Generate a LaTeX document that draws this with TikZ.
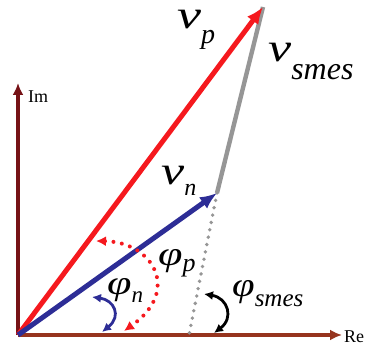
\documentclass[tikz,border=0pt]{standalone}
\usepackage{fontspec}
\setmainfont{Liberation Serif}
\newfontfamily\labfont{Liberation Serif Italic}
\usetikzlibrary{arrows.meta}

\definecolor{phasorred}{RGB}{245,25,30}
\definecolor{phasorblue}{RGB}{45,45,150}
\definecolor{imaxis}{RGB}{118,18,22}
\definecolor{reaxis}{RGB}{150,52,30}
\definecolor{smesgray}{RGB}{150,150,150}

% italic symbol (widened) with a lowered subscript
\newcommand{\phlab}[6]{\scalebox{#6}[1]{\fontsize{#1}{#1}\labfont #2}\raisebox{-#5}{\fontsize{#3}{#3}\labfont #4}}

\begin{document}
\begin{tikzpicture}[
  x=1pt,y=-1pt,
  axis/.style={line width=3.4pt,-{Latex[length=12pt,width=11pt]}},
  phasor/.style={line width=5pt,-{Latex[length=17pt,width=14pt]}},
  angleblue/.style={draw=phasorblue,line width=2.8pt,{Latex[length=9pt,width=9pt]}-{Latex[length=9pt,width=9pt]}},
  anglered/.style={draw=phasorred,line width=4pt,line cap=round,dash pattern=on 0pt off 8.5pt,
    {Latex[length=10pt,width=10pt]}-{Latex[length=10pt,width=10pt]}},
  angleblack/.style={draw=black,line width=2.8pt,{Latex[length=9pt,width=9pt]}-{Latex[length=9pt,width=9pt]}},
  lab/.style={inner sep=0pt,anchor=base west,text height=22pt}
]
  \useasboundingbox (0,0) rectangle (369,347);

  \coordinate (O) at (18,335);
  \coordinate (imtop) at (18,83);
  \coordinate (reend) at (342,335);
  \coordinate (vp) at (263,7);
  \coordinate (vn) at (217,193);
  \coordinate (sfoot) at (189,335);

  % axes
  \draw[axis,draw=imaxis] (O) -- (imtop);
  \draw[axis,draw=reaxis] (O) -- (reend);
  \node[anchor=west,inner sep=0pt,font=\fontsize{18}{18}\selectfont] (imlab) at (28,97) {Im};
  \node[anchor=west,inner sep=0pt,font=\fontsize{18}{18}\selectfont] (relab) at (344,337) {Re};

  % smes phasor and its extension to the real axis
  \draw[draw=smesgray,line width=4.4pt] (vn) -- (vp);
  \draw[draw=smesgray,line width=3.8pt,line cap=round,dash pattern=on 0pt off 7.5pt] (vn) -- (sfoot);

  \draw[phasor,draw=phasorred] (O) -- (vp);
  \draw[phasor,draw=phasorblue] (O) -- (vn);

  % angles
  \draw[anglered] (96,241) .. controls (152,242) and (182,290) .. (124,331);
  \draw[angleblue] (92,297) .. controls (114,300) and (122,316) .. (102,332);
  \draw[angleblack] (204,294) .. controls (228,298) and (234,318) .. (214,333);

  % labels
  \node[lab] (vplab) at (177,29) {\phlab{40}{v}{28}{p}{15pt}{1.35}};
  \node[lab] (vsmeslab) at (268,62) {\phlab{40}{v}{32}{smes}{18pt}{1.3}};
  \node[lab] (vnlab) at (161,185) {\phlab{40}{v}{24}{n}{11pt}{1.3}};
  \node[lab] (phiplab) at (158,265) {\phlab{34}{φ}{26}{p}{6pt}{1.3}};
  \node[lab] (phinlab) at (107,294) {\phlab{34}{φ}{23}{n}{8pt}{1.3}};
  \node[lab] (phismeslab) at (232,296) {\phlab{34}{φ}{25}{smes}{10pt}{1.2}};
\end{tikzpicture}
\end{document}
